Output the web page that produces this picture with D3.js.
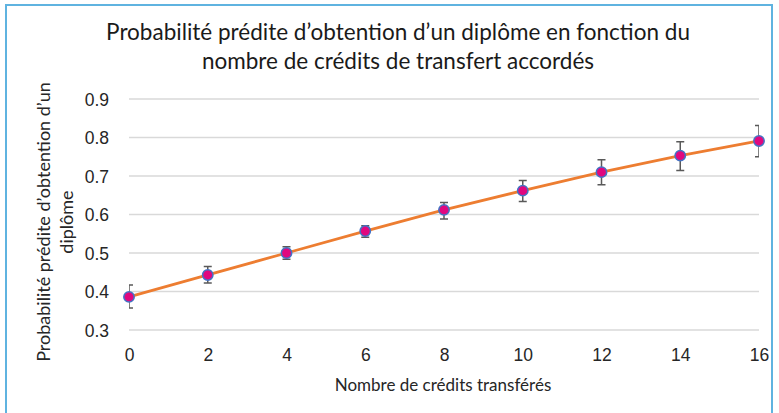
<!DOCTYPE html>
<html>
<head>
<meta charset="utf-8">
<script src="https://cdn.jsdelivr.net/npm/d3@7"></script>
<style>
  body { margin: 0; background: #fff; }
  svg { font-family: Lato, "Open Sans", sans-serif; }
  .grid line { stroke: #d9d9d9; stroke-width: 1.3; }
  .tick text { fill: #262626; font-size: 17.5px; }
</style>
</head>
<body>
<svg width="779" height="413"></svg>
<script>

// credits transferred (x) and predicted probability with CI bounds
var credits = [0, 2, 4, 6, 8, 10, 12, 14, 16];
var prob    = [0.386, 0.443, 0.500, 0.557, 0.612, 0.662, 0.710, 0.753, 0.791];
var lower   = [0.357, 0.422, 0.484, 0.541, 0.588, 0.634, 0.677, 0.714, 0.750];
var upper   = [0.417, 0.465, 0.516, 0.571, 0.631, 0.688, 0.742, 0.789, 0.831];
var yTicks  = [0.3, 0.4, 0.5, 0.6, 0.7, 0.8, 0.9];

var svg = d3.select("svg"),
    width = +svg.attr("width"),
    height = +svg.attr("height");

var margin = {left: 129, right: 20, top: 99, bottom: 83};

var x = d3.scaleLinear()
    .domain([0, 16])
    .range([margin.left, width - margin.right]);

var y = d3.scaleLinear()
    .domain([0.3, 0.9])
    .range([height - margin.bottom, margin.top]);

// outer frame
svg.append("rect")
    .attr("x", 6).attr("y", 5)
    .attr("width", 766).attr("height", 420)
    .attr("fill", "none")
    .attr("stroke", "#5fb3e0")
    .attr("stroke-width", 2);

svg.append("clipPath").attr("id", "plot")
  .append("rect")
    .attr("x", x(0)).attr("y", 0)
    .attr("width", x(16) - x(0)).attr("height", height);

// gridlines
svg.append("g")
    .attr("class", "grid")
  .selectAll("line")
  .data(yTicks)
  .enter().append("line")
    .attr("x1", x(0)).attr("x2", x(16))
    .attr("y1", function(d) { return y(d); })
    .attr("y2", function(d) { return y(d); });

// axes (labels only)
var yAxis = svg.append("g")
    .attr("transform", "translate(" + x(0) + ",0)")
    .call(d3.axisLeft(y).tickValues(yTicks).tickFormat(d3.format(".1f")).tickSize(0).tickPadding(20));
yAxis.select(".domain").remove();
yAxis.selectAll("text").attr("dy", "0.35em");

var xAxis = svg.append("g")
    .attr("transform", "translate(0," + y(0.3) + ")")
    .call(d3.axisBottom(x).tickValues(credits).tickSize(0).tickPadding(19));
xAxis.select(".domain").remove();

// error bars
var eb = svg.append("g")
    .attr("clip-path", "url(#plot)")
    .attr("stroke", "#595959")
    .attr("stroke-width", 1.5)
    .attr("fill", "none");

credits.forEach(function(c, i) {
  var cx = x(c);
  eb.append("path")
      .attr("d", "M" + (cx - 4) + "," + y(upper[i]) + "H" + (cx + 4) +
                 "M" + cx + "," + y(upper[i]) + "V" + y(lower[i]) +
                 "M" + (cx - 4) + "," + y(lower[i]) + "H" + (cx + 4));
});

// line
var line = d3.line()
    .x(function(d, i) { return x(credits[i]); })
    .y(function(d) { return y(d); });

svg.append("path")
    .datum(prob)
    .attr("fill", "none")
    .attr("stroke", "#ed7d31")
    .attr("stroke-width", 2.8)
    .attr("d", line);

// markers
svg.append("g")
  .selectAll("circle")
  .data(prob)
  .enter().append("circle")
    .attr("cx", function(d, i) { return x(credits[i]); })
    .attr("cy", function(d) { return y(d); })
    .attr("r", 5.2)
    .attr("fill", "#e0087f")
    .attr("stroke", "#4472c4")
    .attr("stroke-width", 1.5);

// title
var title = svg.append("text")
    .attr("text-anchor", "middle")
    .attr("fill", "#1a1a1a")
    .style("font-size", "22.5px");
title.append("tspan").attr("x", 398).attr("y", 40)
    .text("Probabilité prédite d’obtention d’un diplôme en fonction du");
title.append("tspan").attr("x", 398).attr("y", 69)
    .text("nombre de crédits de transfert accordés");

// axis titles
var yl = svg.append("text")
    .attr("transform", "translate(44,222) rotate(-90)")
    .attr("text-anchor", "middle")
    .attr("fill", "#262626")
    .style("font-size", "18px");
yl.append("tspan").attr("x", 0).attr("y", 6).text("Probabilité prédite d’obtention d’un");
yl.append("tspan").attr("x", 0).attr("y", 29).text("diplôme");

svg.append("text")
    .attr("x", 443).attr("y", 391)
    .attr("text-anchor", "middle")
    .attr("fill", "#262626")
    .style("font-size", "17px")
    .text("Nombre de crédits transférés");

</script>
</body>
</html>
